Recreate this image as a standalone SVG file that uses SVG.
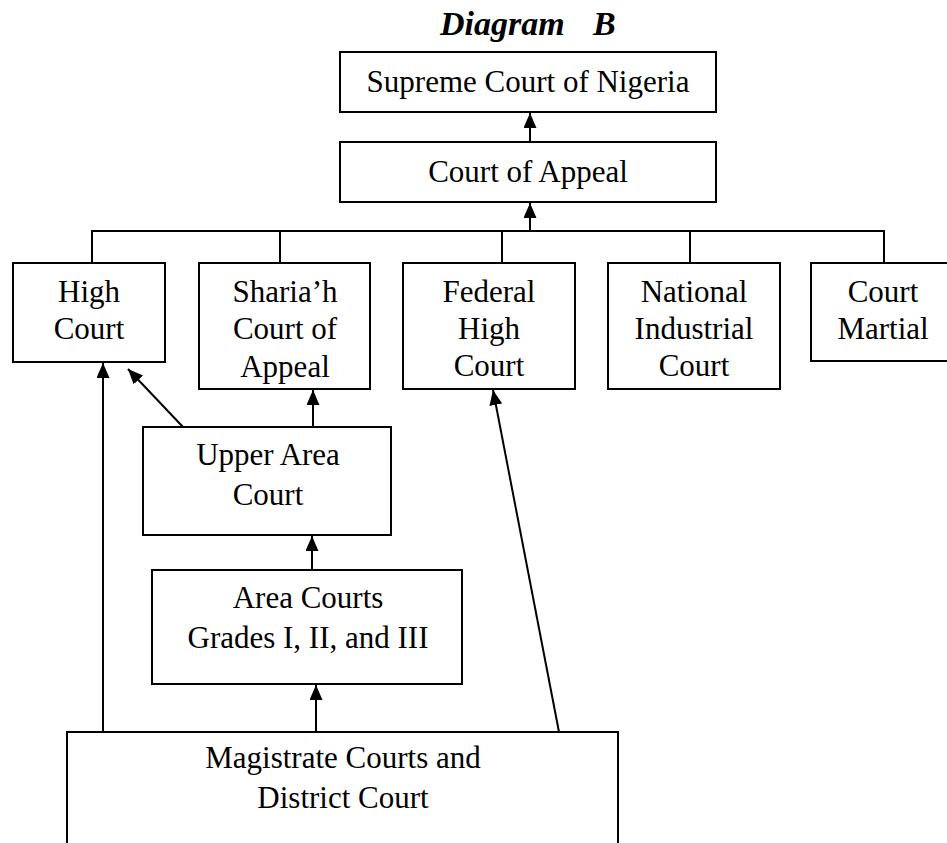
<svg xmlns="http://www.w3.org/2000/svg" width="947" height="843" viewBox="0 0 947 843">
<style>
.box{fill:#fff;stroke:#000;stroke-width:2}
.t{font-family:"Liberation Serif","Times New Roman",serif;font-size:31px;fill:#000;text-anchor:middle}
.title{font-family:"Liberation Serif","Times New Roman",serif;font-size:34px;font-weight:bold;font-style:italic;fill:#000}
.c{fill:none;stroke:#000;stroke-width:2}
.a{fill:none;stroke:#000;stroke-width:2;marker-end:url(#ah)}
</style>
<defs>
<marker id="ah" markerUnits="userSpaceOnUse" markerWidth="15" markerHeight="13" refX="15" refY="6.5" orient="auto" viewBox="0 0 15 13">
<path d="M0,0 L15,6.5 L0,13 z" fill="#000"/>
</marker>
</defs>
<rect width="947" height="843" fill="#fff"/>
<text class="title" x="440" y="35">Diagram</text>
<text class="title" x="593" y="35">B</text>

<g id="connectors">
<line class="a" x1="530" y1="142" x2="530" y2="113"/>
<line class="a" x1="530" y1="231" x2="530" y2="203"/>
<polyline class="c" points="92,264 92,231 884,231 884,264"/>
<line class="c" x1="280" y1="231" x2="280" y2="264"/>
<line class="c" x1="502" y1="231" x2="502" y2="267"/>
<line class="c" x1="690" y1="231" x2="690" y2="264"/>
<line class="a" x1="313" y1="427" x2="313" y2="390"/>
<line class="a" x1="312" y1="570" x2="312" y2="536"/>
<line class="a" x1="316" y1="732" x2="316" y2="685"/>
<line class="a" x1="103" y1="732" x2="103" y2="363"/>
<line class="a" x1="183" y1="427" x2="128" y2="369"/>
<line class="a" x1="559" y1="732" x2="493" y2="390"/>
</g>

<g id="supreme">
<rect class="box" x="340" y="52" width="376" height="60"/>
<text class="t" x="528" y="92">Supreme Court of Nigeria</text>
</g>
<g id="appeal">
<rect class="box" x="340" y="142" width="376" height="60"/>
<text class="t" x="528" y="182">Court of Appeal</text>
</g>
<g id="high">
<rect class="box" x="13" y="263" width="152" height="99"/>
<text class="t" x="89" y="302">High</text>
<text class="t" x="89" y="339">Court</text>
</g>
<g id="sharia">
<rect class="box" x="199" y="263" width="171" height="126"/>
<text class="t" x="285" y="302">Sharia’h</text>
<text class="t" x="285" y="339">Court of</text>
<text class="t" x="285" y="377">Appeal</text>
</g>
<g id="federal">
<rect class="box" x="403" y="263" width="172" height="126"/>
<text class="t" x="489" y="302">Federal</text>
<text class="t" x="489" y="339">High</text>
<text class="t" x="489" y="376">Court</text>
</g>
<g id="national">
<rect class="box" x="608" y="263" width="172" height="126"/>
<text class="t" x="694" y="302">National</text>
<text class="t" x="694" y="339">Industrial</text>
<text class="t" x="694" y="376">Court</text>
</g>
<g id="martial">
<rect class="box" x="811" y="263" width="150" height="98"/>
<text class="t" x="883" y="302">Court</text>
<text class="t" x="883" y="339">Martial</text>
</g>
<g id="upper">
<rect class="box" x="143" y="427" width="248" height="108"/>
<text class="t" x="268" y="465">Upper Area</text>
<text class="t" x="268" y="505">Court</text>
</g>
<g id="area">
<rect class="box" x="152" y="570" width="310" height="114"/>
<text class="t" x="308" y="608">Area Courts</text>
<text class="t" x="308" y="648">Grades I, II, and III</text>
</g>
<g id="magistrate">
<rect class="box" x="67" y="732" width="551" height="130"/>
<text class="t" x="343" y="768">Magistrate Courts and</text>
<text class="t" x="343" y="808">District Court</text>
</g>
</svg>
